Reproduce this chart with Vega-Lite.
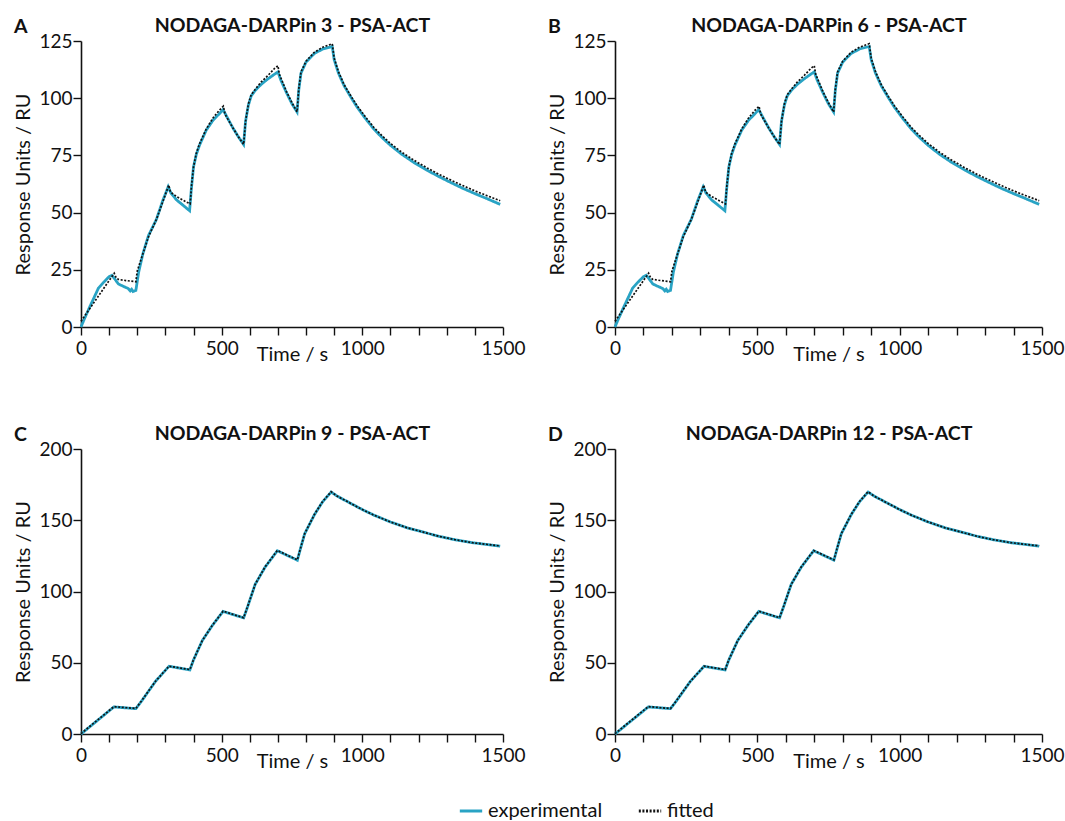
{
  "$schema": "https://vega.github.io/schema/vega-lite/v6.json",
  "padding": {"left": 13, "top": 15, "right": 0, "bottom": 0},
  "background": "white",
  "config": {
    "font": "Lato",
    "view": {"stroke": null},
    "axis": {"grid": false, "domainColor": "#111", "tickColor": "#111", "domainWidth": 1.6, "tickWidth": 1.4, "tickSize": 8, "labelColor": "#111", "titleColor": "#111", "labelFontSize": 19, "titleFontSize": 20, "titleFontWeight": "normal", "labelFont": "Lato", "titleFont": "Lato"},
    "title": {"fontSize": 19.5, "fontWeight": "bold", "color": "#111", "font": "Lato"},
    "concat": {"spacing": 21}
  },
  "datasets": {
    "ab": [
      {"t":0,"ru":0,"series":"experimental"},{"t":10,"ru":3,"series":"experimental"},{"t":30,"ru":8.5,"series":"experimental"},{"t":62,"ru":17,"series":"experimental"},{"t":80,"ru":19.5,"series":"experimental"},{"t":100,"ru":22,"series":"experimental"},{"t":110,"ru":22.6,"series":"experimental"},{"t":117,"ru":21.5,"series":"experimental"},{"t":133,"ru":18.8,"series":"experimental"},{"t":150,"ru":17.8,"series":"experimental"},{"t":168,"ru":16.8,"series":"experimental"},{"t":175,"ru":15.8,"series":"experimental"},{"t":180,"ru":16.5,"series":"experimental"},{"t":185,"ru":15.5,"series":"experimental"},{"t":195,"ru":16,"series":"experimental"},{"t":205,"ru":24,"series":"experimental"},{"t":220,"ru":32,"series":"experimental"},{"t":240,"ru":40,"series":"experimental"},{"t":268,"ru":47,"series":"experimental"},{"t":290,"ru":55,"series":"experimental"},{"t":310,"ru":61.3,"series":"experimental"},{"t":320,"ru":58.5,"series":"experimental"},{"t":340,"ru":55.5,"series":"experimental"},{"t":360,"ru":53.5,"series":"experimental"},{"t":386,"ru":50.8,"series":"experimental"},{"t":392,"ru":60,"series":"experimental"},{"t":400,"ru":70,"series":"experimental"},{"t":410,"ru":75.5,"series":"experimental"},{"t":421,"ru":79.4,"series":"experimental"},{"t":445,"ru":86,"series":"experimental"},{"t":470,"ru":90.5,"series":"experimental"},{"t":490,"ru":93,"series":"experimental"},{"t":505,"ru":95,"series":"experimental"},{"t":520,"ru":91.5,"series":"experimental"},{"t":540,"ru":87,"series":"experimental"},{"t":560,"ru":83,"series":"experimental"},{"t":578,"ru":79.8,"series":"experimental"},{"t":585,"ru":90,"series":"experimental"},{"t":595,"ru":97,"series":"experimental"},{"t":605,"ru":101,"series":"experimental"},{"t":620,"ru":103.5,"series":"experimental"},{"t":640,"ru":106,"series":"experimental"},{"t":665,"ru":108.5,"series":"experimental"},{"t":688,"ru":110.5,"series":"experimental"},{"t":700,"ru":111.5,"series":"experimental"},{"t":710,"ru":108,"series":"experimental"},{"t":730,"ru":102.5,"series":"experimental"},{"t":750,"ru":97.5,"series":"experimental"},{"t":768,"ru":94,"series":"experimental"},{"t":774,"ru":103.5,"series":"experimental"},{"t":782,"ru":111,"series":"experimental"},{"t":800,"ru":115.8,"series":"experimental"},{"t":829,"ru":119.5,"series":"experimental"},{"t":859,"ru":121.5,"series":"experimental"},{"t":893,"ru":122.6,"series":"experimental"},{"t":900,"ru":116.8,"series":"experimental"},{"t":915,"ru":111,"series":"experimental"},{"t":935,"ru":105.5,"series":"experimental"},{"t":960,"ru":100.3,"series":"experimental"},{"t":982,"ru":96,"series":"experimental"},{"t":1010,"ru":91.3,"series":"experimental"},{"t":1041,"ru":86.5,"series":"experimental"},{"t":1070,"ru":82.8,"series":"experimental"},{"t":1100,"ru":79.4,"series":"experimental"},{"t":1140,"ru":75.5,"series":"experimental"},{"t":1182,"ru":72,"series":"experimental"},{"t":1230,"ru":68.5,"series":"experimental"},{"t":1276,"ru":65.5,"series":"experimental"},{"t":1320,"ru":62.8,"series":"experimental"},{"t":1359,"ru":60.5,"series":"experimental"},{"t":1400,"ru":58.3,"series":"experimental"},{"t":1441,"ru":56.2,"series":"experimental"},{"t":1490,"ru":53.6,"series":"experimental"},
      {"t":0,"ru":2.5,"series":"fitted"},{"t":118,"ru":23.5,"series":"fitted"},{"t":125,"ru":21.5,"series":"fitted"},{"t":133,"ru":20.8,"series":"fitted"},{"t":160,"ru":20.3,"series":"fitted"},{"t":195,"ru":19.8,"series":"fitted"},{"t":200,"ru":24.5,"series":"fitted"},{"t":220,"ru":32,"series":"fitted"},{"t":240,"ru":39.5,"series":"fitted"},{"t":268,"ru":47,"series":"fitted"},{"t":290,"ru":54.5,"series":"fitted"},{"t":312,"ru":62,"series":"fitted"},{"t":318,"ru":59,"series":"fitted"},{"t":340,"ru":57,"series":"fitted"},{"t":365,"ru":55.3,"series":"fitted"},{"t":388,"ru":53.8,"series":"fitted"},{"t":393,"ru":62,"series":"fitted"},{"t":400,"ru":70,"series":"fitted"},{"t":410,"ru":76,"series":"fitted"},{"t":421,"ru":80,"series":"fitted"},{"t":445,"ru":86.5,"series":"fitted"},{"t":470,"ru":91.5,"series":"fitted"},{"t":490,"ru":94.5,"series":"fitted"},{"t":506,"ru":96.5,"series":"fitted"},{"t":512,"ru":93,"series":"fitted"},{"t":540,"ru":87,"series":"fitted"},{"t":560,"ru":83,"series":"fitted"},{"t":578,"ru":79.8,"series":"fitted"},{"t":585,"ru":90,"series":"fitted"},{"t":595,"ru":97.5,"series":"fitted"},{"t":605,"ru":101.5,"series":"fitted"},{"t":620,"ru":104,"series":"fitted"},{"t":640,"ru":107,"series":"fitted"},{"t":665,"ru":110,"series":"fitted"},{"t":688,"ru":113,"series":"fitted"},{"t":700,"ru":114.2,"series":"fitted"},{"t":705,"ru":110.5,"series":"fitted"},{"t":730,"ru":103,"series":"fitted"},{"t":750,"ru":98,"series":"fitted"},{"t":768,"ru":94,"series":"fitted"},{"t":774,"ru":104,"series":"fitted"},{"t":782,"ru":111.5,"series":"fitted"},{"t":800,"ru":116.2,"series":"fitted"},{"t":829,"ru":120,"series":"fitted"},{"t":859,"ru":122.3,"series":"fitted"},{"t":893,"ru":123.8,"series":"fitted"},{"t":900,"ru":117.5,"series":"fitted"},{"t":915,"ru":111.6,"series":"fitted"},{"t":935,"ru":106,"series":"fitted"},{"t":960,"ru":100.8,"series":"fitted"},{"t":982,"ru":96.6,"series":"fitted"},{"t":1010,"ru":92,"series":"fitted"},{"t":1041,"ru":87.2,"series":"fitted"},{"t":1070,"ru":83.6,"series":"fitted"},{"t":1100,"ru":80.2,"series":"fitted"},{"t":1140,"ru":76.4,"series":"fitted"},{"t":1182,"ru":73,"series":"fitted"},{"t":1230,"ru":69.5,"series":"fitted"},{"t":1276,"ru":66.5,"series":"fitted"},{"t":1320,"ru":63.9,"series":"fitted"},{"t":1359,"ru":61.7,"series":"fitted"},{"t":1400,"ru":59.5,"series":"fitted"},{"t":1441,"ru":57.5,"series":"fitted"},{"t":1490,"ru":55.2,"series":"fitted"}
    ],
    "cd": [
      {"t":0,"ru":0,"series":"experimental"},{"t":117,"ru":19,"series":"experimental"},{"t":195,"ru":17.8,"series":"experimental"},{"t":215,"ru":23,"series":"experimental"},{"t":240,"ru":30,"series":"experimental"},{"t":265,"ru":37,"series":"experimental"},{"t":290,"ru":42.5,"series":"experimental"},{"t":313,"ru":47.5,"series":"experimental"},{"t":387,"ru":45,"series":"experimental"},{"t":400,"ru":52,"series":"experimental"},{"t":431,"ru":65.5,"series":"experimental"},{"t":467,"ru":76.2,"series":"experimental"},{"t":505,"ru":86,"series":"experimental"},{"t":578,"ru":81.5,"series":"experimental"},{"t":590,"ru":88,"series":"experimental"},{"t":619,"ru":105,"series":"experimental"},{"t":654,"ru":117,"series":"experimental"},{"t":698,"ru":128.6,"series":"experimental"},{"t":769,"ru":122,"series":"experimental"},{"t":780,"ru":130,"series":"experimental"},{"t":795,"ru":140.5,"series":"experimental"},{"t":830,"ru":154,"series":"experimental"},{"t":859,"ru":163,"series":"experimental"},{"t":889,"ru":169.8,"series":"experimental"},{"t":910,"ru":167,"series":"experimental"},{"t":959,"ru":161.8,"series":"experimental"},{"t":1000,"ru":157.5,"series":"experimental"},{"t":1041,"ru":153.6,"series":"experimental"},{"t":1100,"ru":148.8,"series":"experimental"},{"t":1158,"ru":144.8,"series":"experimental"},{"t":1220,"ru":141.5,"series":"experimental"},{"t":1275,"ru":138.6,"series":"experimental"},{"t":1330,"ru":136.3,"series":"experimental"},{"t":1393,"ru":134.2,"series":"experimental"},{"t":1490,"ru":131.8,"series":"experimental"},
      {"t":0,"ru":0.3,"series":"fitted"},{"t":117,"ru":19.2,"series":"fitted"},{"t":195,"ru":17.9,"series":"fitted"},{"t":215,"ru":23.2,"series":"fitted"},{"t":240,"ru":30.2,"series":"fitted"},{"t":265,"ru":37,"series":"fitted"},{"t":290,"ru":42.6,"series":"fitted"},{"t":313,"ru":47.6,"series":"fitted"},{"t":387,"ru":45.2,"series":"fitted"},{"t":400,"ru":52.2,"series":"fitted"},{"t":431,"ru":65.5,"series":"fitted"},{"t":467,"ru":76.3,"series":"fitted"},{"t":505,"ru":86.2,"series":"fitted"},{"t":578,"ru":81.6,"series":"fitted"},{"t":590,"ru":88.2,"series":"fitted"},{"t":619,"ru":105,"series":"fitted"},{"t":654,"ru":117.2,"series":"fitted"},{"t":698,"ru":128.8,"series":"fitted"},{"t":769,"ru":122.2,"series":"fitted"},{"t":780,"ru":130.2,"series":"fitted"},{"t":795,"ru":140.6,"series":"fitted"},{"t":830,"ru":154.2,"series":"fitted"},{"t":859,"ru":163.2,"series":"fitted"},{"t":889,"ru":170,"series":"fitted"},{"t":910,"ru":167,"series":"fitted"},{"t":959,"ru":161.8,"series":"fitted"},{"t":1000,"ru":157.5,"series":"fitted"},{"t":1041,"ru":153.6,"series":"fitted"},{"t":1100,"ru":148.8,"series":"fitted"},{"t":1158,"ru":144.8,"series":"fitted"},{"t":1220,"ru":141.5,"series":"fitted"},{"t":1275,"ru":138.6,"series":"fitted"},{"t":1330,"ru":136.3,"series":"fitted"},{"t":1393,"ru":134.2,"series":"fitted"},{"t":1490,"ru":132,"series":"fitted"}
    ]
  },
  "vconcat": [
    {"hconcat": [
      {"title": {"text": "A", "anchor": "start", "frame": "bounds", "offset": -22},
       "width": 422, "height": 286, "data": {"name": "ab"},
       "resolve": {"axis": {"x": "independent"}},
       "layer": [
        {"transform": [{"filter": "datum.series === 'experimental'"}],
         "mark": {"type": "line", "strokeWidth": 2.8},
         "encoding": {
          "x": {"field": "t", "type": "quantitative", "scale": {"domain": [0, 1500], "nice": false}, "axis": {"title": "Time / s", "format": "d", "values": [0,100,200,300,400,500,600,700,800,900,1000,1100,1200,1300,1400,1500], "labelExpr": "datum.value % 500 === 0 ? datum.label : ''", "labelFlush": false, "labelOverlap": false, "titlePadding": -14, "labelPadding": 4, "labelFontSize": 19, "titleFontSize": 20}},
          "y": {"field": "ru", "type": "quantitative", "scale": {"domain": [0, 125], "nice": false}, "axis": {"title": "Response Units / RU", "values": [0,12.5,25,37.5,50,62.5,75,87.5,100,112.5,125], "labelExpr": "datum.value % 25 === 0 ? datum.label : ''", "labelOverlap": false, "labelPadding": 1, "titlePadding": 5, "labelFontSize": 19, "titleFontSize": 20}},
          "color": {"field": "series", "type": "nominal", "scale": {"domain": ["experimental", "fitted"], "range": ["#29a3c4", "#111111"]}, "legend": {"title": null, "orient": "none", "legendX": 377, "legendY": 757, "direction": "horizontal", "symbolType": "stroke", "symbolSize": 500, "symbolStrokeWidth": 2.8, "labelFontSize": 20, "labelFont": "Lato", "labelColor": "#111", "columnPadding": 30}},
          "strokeDash": {"field": "series", "type": "nominal", "scale": {"domain": ["experimental", "fitted"], "range": [[1, 0], [2, 1.6]]}, "legend": {"title": null, "orient": "none", "legendX": 377, "legendY": 757, "direction": "horizontal"}}
         }},
        {"transform": [{"filter": "datum.series === 'fitted'"}],
         "mark": {"type": "line", "strokeWidth": 1.7},
         "encoding": {
          "x": {"field": "t", "type": "quantitative", "scale": {"domain": [0, 1500], "nice": false}, "axis": {"orient": "top", "domain": false, "ticks": false, "labels": false, "title": "NODAGA-DARPin 3 - PSA-ACT", "titleFontWeight": "bold", "titleFontSize": 19.5, "titlePadding": 6}},
          "y": {"field": "ru", "type": "quantitative"},
          "color": {"field": "series", "type": "nominal"},
          "strokeDash": {"field": "series", "type": "nominal"}
         }}
       ]},
      {"title": {"text": "B", "anchor": "start", "frame": "bounds", "offset": -22},
       "width": 427, "height": 286, "data": {"name": "ab"},
       "resolve": {"axis": {"x": "independent"}},
       "layer": [
        {"transform": [{"filter": "datum.series === 'experimental'"}],
         "mark": {"type": "line", "strokeWidth": 2.8},
         "encoding": {
          "x": {"field": "t", "type": "quantitative", "scale": {"domain": [0, 1500], "nice": false}, "axis": {"title": "Time / s", "format": "d", "values": [0,100,200,300,400,500,600,700,800,900,1000,1100,1200,1300,1400,1500], "labelExpr": "datum.value % 500 === 0 ? datum.label : ''", "labelFlush": false, "labelOverlap": false, "titlePadding": -14, "labelPadding": 4, "labelFontSize": 19, "titleFontSize": 20}},
          "y": {"field": "ru", "type": "quantitative", "scale": {"domain": [0, 125], "nice": false}, "axis": {"title": "Response Units / RU", "values": [0,12.5,25,37.5,50,62.5,75,87.5,100,112.5,125], "labelExpr": "datum.value % 25 === 0 ? datum.label : ''", "labelOverlap": false, "labelPadding": 1, "titlePadding": 5, "labelFontSize": 19, "titleFontSize": 20}},
          "color": {"field": "series", "type": "nominal"},
          "strokeDash": {"field": "series", "type": "nominal"}
         }},
        {"transform": [{"filter": "datum.series === 'fitted'"}],
         "mark": {"type": "line", "strokeWidth": 1.7},
         "encoding": {
          "x": {"field": "t", "type": "quantitative", "scale": {"domain": [0, 1500], "nice": false}, "axis": {"orient": "top", "domain": false, "ticks": false, "labels": false, "title": "NODAGA-DARPin 6 - PSA-ACT", "titleFontWeight": "bold", "titleFontSize": 19.5, "titlePadding": 6}},
          "y": {"field": "ru", "type": "quantitative"},
          "color": {"field": "series", "type": "nominal"},
          "strokeDash": {"field": "series", "type": "nominal"}
         }}
       ]}
    ]},
    {"hconcat": [
      {"title": {"text": "C", "anchor": "start", "frame": "bounds", "offset": -22},
       "width": 422, "height": 285, "data": {"name": "cd"},
       "resolve": {"axis": {"x": "independent"}},
       "layer": [
        {"transform": [{"filter": "datum.series === 'experimental'"}],
         "mark": {"type": "line", "strokeWidth": 2.8},
         "encoding": {
          "x": {"field": "t", "type": "quantitative", "scale": {"domain": [0, 1500], "nice": false}, "axis": {"title": "Time / s", "format": "d", "values": [0,100,200,300,400,500,600,700,800,900,1000,1100,1200,1300,1400,1500], "labelExpr": "datum.value % 500 === 0 ? datum.label : ''", "labelFlush": false, "labelOverlap": false, "titlePadding": -14, "labelPadding": 4, "labelFontSize": 19, "titleFontSize": 20}},
          "y": {"field": "ru", "type": "quantitative", "scale": {"domain": [0, 200], "nice": false}, "axis": {"title": "Response Units / RU", "values": [0,25,50,75,100,125,150,175,200], "labelExpr": "datum.value % 50 === 0 ? datum.label : ''", "labelOverlap": false, "labelPadding": 1, "titlePadding": 5, "labelFontSize": 19, "titleFontSize": 20}},
          "color": {"field": "series", "type": "nominal"},
          "strokeDash": {"field": "series", "type": "nominal"}
         }},
        {"transform": [{"filter": "datum.series === 'fitted'"}],
         "mark": {"type": "line", "strokeWidth": 1.7},
         "encoding": {
          "x": {"field": "t", "type": "quantitative", "scale": {"domain": [0, 1500], "nice": false}, "axis": {"orient": "top", "domain": false, "ticks": false, "labels": false, "title": "NODAGA-DARPin 9 - PSA-ACT", "titleFontWeight": "bold", "titleFontSize": 19.5, "titlePadding": 6}},
          "y": {"field": "ru", "type": "quantitative"},
          "color": {"field": "series", "type": "nominal"},
          "strokeDash": {"field": "series", "type": "nominal"}
         }}
       ]},
      {"title": {"text": "D", "anchor": "start", "frame": "bounds", "offset": -22},
       "width": 427, "height": 285, "data": {"name": "cd"},
       "resolve": {"axis": {"x": "independent"}},
       "layer": [
        {"transform": [{"filter": "datum.series === 'experimental'"}],
         "mark": {"type": "line", "strokeWidth": 2.8},
         "encoding": {
          "x": {"field": "t", "type": "quantitative", "scale": {"domain": [0, 1500], "nice": false}, "axis": {"title": "Time / s", "format": "d", "values": [0,100,200,300,400,500,600,700,800,900,1000,1100,1200,1300,1400,1500], "labelExpr": "datum.value % 500 === 0 ? datum.label : ''", "labelFlush": false, "labelOverlap": false, "titlePadding": -14, "labelPadding": 4, "labelFontSize": 19, "titleFontSize": 20}},
          "y": {"field": "ru", "type": "quantitative", "scale": {"domain": [0, 200], "nice": false}, "axis": {"title": "Response Units / RU", "values": [0,25,50,75,100,125,150,175,200], "labelExpr": "datum.value % 50 === 0 ? datum.label : ''", "labelOverlap": false, "labelPadding": 1, "titlePadding": 5, "labelFontSize": 19, "titleFontSize": 20}},
          "color": {"field": "series", "type": "nominal"},
          "strokeDash": {"field": "series", "type": "nominal"}
         }},
        {"transform": [{"filter": "datum.series === 'fitted'"}],
         "mark": {"type": "line", "strokeWidth": 1.7},
         "encoding": {
          "x": {"field": "t", "type": "quantitative", "scale": {"domain": [0, 1500], "nice": false}, "axis": {"orient": "top", "domain": false, "ticks": false, "labels": false, "title": "NODAGA-DARPin 12 - PSA-ACT", "titleFontWeight": "bold", "titleFontSize": 19.5, "titlePadding": 6}},
          "y": {"field": "ru", "type": "quantitative"},
          "color": {"field": "series", "type": "nominal"},
          "strokeDash": {"field": "series", "type": "nominal"}
         }}
       ]}
    ]}
  ],
  "spacing": 59
}
